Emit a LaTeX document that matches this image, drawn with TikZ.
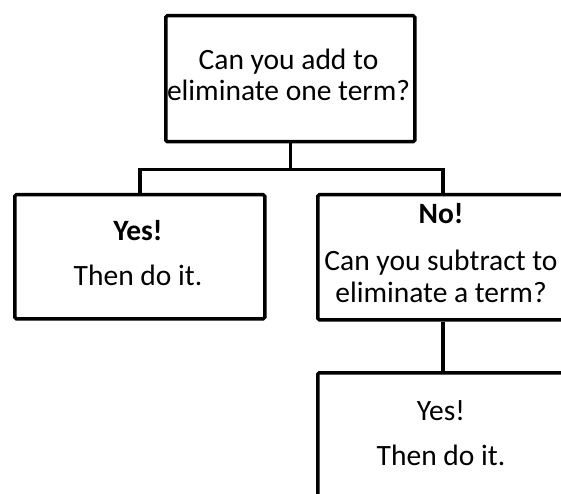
\documentclass[tikz,border=0pt]{standalone}
\usepackage{fontspec}
\setmainfont{Carlito}
\begin{document}
\begin{tikzpicture}[x=1pt,y=-1pt,
  box/.style={draw, line width=3.5pt, rounded corners=1.5pt, inner sep=0pt, anchor=north west, minimum width=250pt},
  link/.style={line width=3.5pt},
  txt/.style={anchor=base, inner sep=0pt, font=\fontsize{29.5}{31}\selectfont},
  btxt/.style={anchor=base, inner sep=0pt, font=\fontsize{29.5}{31}\selectfont\bfseries}]
\useasboundingbox (0,0) rectangle (561,494);
% boxes
\node[box, minimum width=249pt, minimum height=126pt] (top) at (164,14) {};
\node[box, minimum height=124pt] (left) at (13,193) {};
\node[box, minimum height=125pt] (right) at (316,193) {};
\node[box, minimum height=124pt] (bottom) at (316,371) {};
% connectors
\draw[link] (top.south) -- ++(0,26) coordinate (j) -| (left.north);
\draw[link] (j) -| (right.north);
\draw[link] (right.south) -- (bottom.north);
% texts
\node[txt] (t1) at (288.5,70) {Can you add to};
\node[txt] (t2) at (288.5,101) {eliminate one term?};
\node[btxt] (l1) at (138,240) {Yes!};
\node[txt] (l2) at (138,285) {Then do it.};
\node[btxt] (r1) at (441,223) {No!};
\node[txt] (r2) at (441,270) {Can you subtract to};
\node[txt] (r3) at (441,302) {eliminate a term?};
\node[txt] (b1) at (441,420) {Yes!};
\node[txt] (b2) at (441,465) {Then do it.};
\end{tikzpicture}
\end{document}
